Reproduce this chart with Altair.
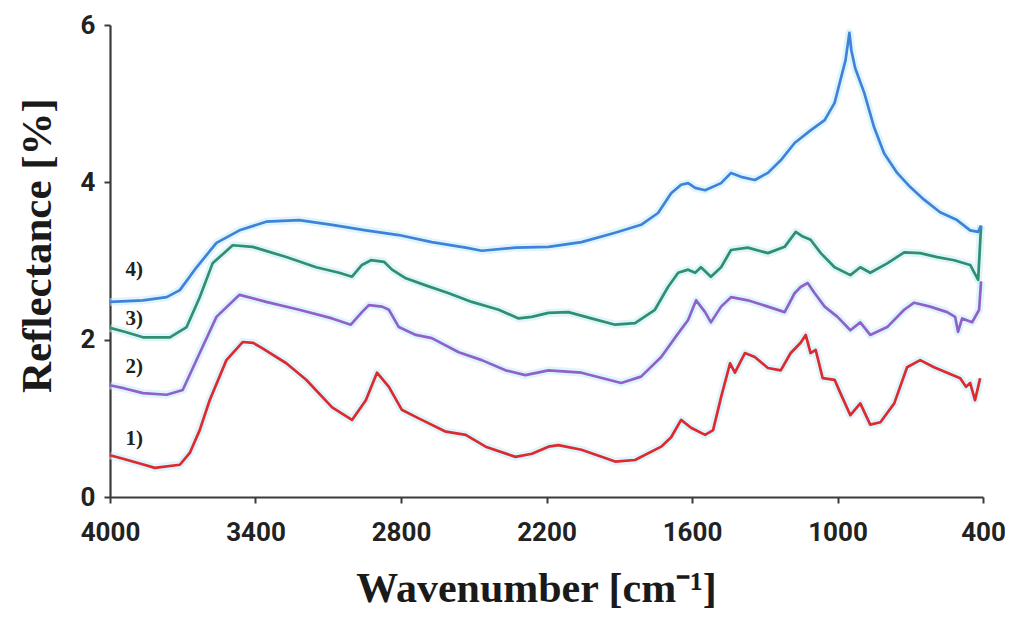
import altair as alt
import pandas as pd

# ---- data ----
wn_1 = [4000, 3950, 3870, 3815, 3712, 3671, 3630, 3589, 3520, 3453, 3410, 3371, 3273, 3191, 3084, 3002,
        2945, 2899, 2850, 2797, 2727, 2615, 2533, 2451, 2328, 2260, 2192, 2151, 2056, 1917, 1835, 1727,
        1686, 1645, 1604, 1546, 1513, 1480, 1443, 1423, 1382, 1341, 1287, 1234, 1193, 1152, 1131, 1111,
        1090, 1061, 1012, 988, 947, 906, 865, 823, 766, 713, 659, 602, 548, 494, 470, 453, 433, 420, 412]
refl_1 = [0.53, 0.49, 0.42, 0.37, 0.41, 0.56, 0.85, 1.23, 1.74, 1.97, 1.96, 1.89, 1.70, 1.49, 1.14, 0.98,
          1.23, 1.58, 1.40, 1.11, 1.00, 0.83, 0.79, 0.64, 0.51, 0.55, 0.64, 0.66, 0.60, 0.45, 0.47, 0.64,
          0.76, 0.98, 0.88, 0.79, 0.85, 1.27, 1.70, 1.58, 1.83, 1.78, 1.64, 1.61, 1.83, 1.96, 2.06, 1.83,
          1.87, 1.51, 1.49, 1.32, 1.04, 1.19, 0.92, 0.95, 1.19, 1.65, 1.74, 1.65, 1.58, 1.51, 1.40, 1.45,
          1.23, 1.40, 1.51]

wn_2 = [4000, 3940, 3864, 3766, 3700, 3630, 3561, 3466, 3356, 3220, 3084, 3007, 2961, 2932, 2878, 2850,
        2809, 2739, 2673, 2562, 2467, 2369, 2287, 2192, 2056, 1892, 1810, 1727, 1657, 1616, 1583, 1546,
        1522, 1480, 1439, 1370, 1287, 1218, 1177, 1152, 1123, 1094, 1053, 1000, 947, 906, 865, 795,
        725, 684, 618, 548, 515, 503, 486, 445, 416, 408]
refl_2 = [1.42, 1.38, 1.32, 1.30, 1.36, 1.83, 2.29, 2.57, 2.48, 2.38, 2.27, 2.19, 2.35, 2.44, 2.42, 2.38,
          2.16, 2.06, 2.02, 1.84, 1.74, 1.61, 1.55, 1.61, 1.58, 1.45, 1.53, 1.78, 2.08, 2.25, 2.50, 2.35,
          2.22, 2.42, 2.54, 2.50, 2.42, 2.35, 2.59, 2.67, 2.72, 2.59, 2.42, 2.29, 2.12, 2.22, 2.06, 2.16,
          2.38, 2.47, 2.42, 2.35, 2.29, 2.10, 2.27, 2.22, 2.38, 2.74]

wn_3 = [4000, 3940, 3864, 3753, 3684, 3630, 3577, 3494, 3412, 3273, 3150, 3055, 3002, 2961, 2924, 2870,
        2837, 2780, 2698, 2603, 2508, 2397, 2315, 2261, 2192, 2110, 2015, 1917, 1835, 1753, 1699, 1657,
        1616, 1587, 1563, 1522, 1480, 1439, 1370, 1287, 1218, 1172, 1143, 1111, 1069, 1012, 947, 906,
        865, 795, 725, 659, 589, 519, 453, 420, 408]
refl_3 = [2.15, 2.10, 2.03, 2.03, 2.16, 2.54, 2.97, 3.20, 3.18, 3.05, 2.92, 2.85, 2.80, 2.95, 3.01, 2.99,
          2.89, 2.78, 2.69, 2.59, 2.48, 2.38, 2.27, 2.29, 2.34, 2.35, 2.27, 2.19, 2.21, 2.38, 2.67, 2.85,
          2.89, 2.85, 2.92, 2.80, 2.92, 3.14, 3.17, 3.10, 3.18, 3.37, 3.31, 3.27, 3.10, 2.92, 2.82, 2.92,
          2.85, 2.97, 3.11, 3.10, 3.05, 3.01, 2.95, 2.76, 3.45]

wn_4 = [4000, 3930, 3864, 3766, 3712, 3643, 3561, 3466, 3356, 3220, 3084, 2945, 2809, 2673, 2533, 2467,
        2328, 2192, 2056, 1917, 1810, 1740, 1686, 1645, 1616, 1587, 1546, 1480, 1439, 1398, 1341, 1287,
        1234, 1177, 1111, 1053, 1012, 988, 967, 951, 943, 927, 890, 849, 808, 754, 700, 643,
        577, 507, 453, 420, 408]
refl_4 = [2.48, 2.49, 2.50, 2.54, 2.63, 2.92, 3.23, 3.39, 3.50, 3.52, 3.46, 3.39, 3.33, 3.24, 3.17, 3.13,
          3.17, 3.18, 3.24, 3.36, 3.46, 3.61, 3.86, 3.97, 3.99, 3.93, 3.90, 3.99, 4.12, 4.07, 4.03, 4.12,
          4.28, 4.50, 4.66, 4.79, 5.01, 5.30, 5.55, 5.90, 5.68, 5.45, 5.14, 4.70, 4.37, 4.12, 3.94, 3.78,
          3.62, 3.52, 3.39, 3.37, 3.45]

series_names = ["1)", "2)", "3)", "4)"]
series_colors = ["#dc2a2e", "#8f62c9", "#2f8f6f", "#3f82d8"]
label_wn = [3900, 3900, 3900, 3900]
label_refl = [0.74, 1.65, 2.26, 2.88]

x_ticks = [4000, 3400, 2800, 2200, 1600, 1000, 400]
y_ticks = [0, 2, 4, 6]

# ---- build table ----
rows = []
for name, wns, vals in zip(series_names, [wn_1, wn_2, wn_3, wn_4], [refl_1, refl_2, refl_3, refl_4]):
    for i, (w, v) in enumerate(zip(wns, vals)):
        rows.append({"series": name, "wn": w, "refl": v, "order": i})
df = pd.DataFrame(rows)
labels_df = pd.DataFrame({"label": series_names, "wn": label_wn, "refl": label_refl})

x_scale = alt.Scale(domain=[400, 4000], reverse=True, nice=False, zero=False)
y_scale = alt.Scale(domain=[0, 6], nice=False)

x_enc = alt.X("wn:Q", scale=x_scale,
              axis=alt.Axis(values=x_ticks, title="Wavenumber [cm⁻¹]", format="d",
                            labelFont="Roboto", labelFontSize=26, labelFontWeight="bold",
                            labelPadding=16, labelColor="#222", labelOverlap=False, labelFlush=False,
                            titleFont="Liberation Serif", titleFontSize=42, titleFontWeight="bold",
                            titleColor="#1a1a1a", titleX=426, titleY=104,
                            titleBaseline="alphabetic", titleAlign="center"))
y_enc = alt.Y("refl:Q", scale=y_scale,
              axis=alt.Axis(values=y_ticks, title="Reflectance [%]", format="d",
                            labelFont="Roboto", labelFontSize=26, labelFontWeight="bold",
                            labelPadding=9, labelColor="#222",
                            titleFont="Liberation Serif", titleFontSize=43, titleFontWeight="bold",
                            titleColor="#1a1a1a", titleX=-60, titleY=220, titleBaseline="alphabetic",
                            titleAngle=270, titleAlign="center"))

color_scale = alt.Scale(domain=series_names, range=series_colors)

halo = alt.Chart(df).mark_line(strokeWidth=8, opacity=0.55, color="#c6ebf7", strokeJoin="round").encode(
    x=x_enc, y=y_enc, detail="series:N", order="order:Q")

lines = alt.Chart(df).mark_line(strokeWidth=2.7, strokeJoin="round").encode(
    x=x_enc, y=y_enc,
    color=alt.Color("series:N", scale=color_scale, legend=None),
    order="order:Q")

labels = alt.Chart(labels_df).mark_text(font="Liberation Serif", fontSize=21, fontWeight="bold",
                                        color="#222", align="center", baseline="middle").encode(
    x=alt.X("wn:Q", scale=x_scale),
    y=alt.Y("refl:Q", scale=y_scale),
    text="label:N")

chart = alt.layer(halo, lines, labels).properties(
    width=873, height=472,
    autosize=alt.AutoSizeParams(type="none"),
    padding={"left": 102, "top": 17, "right": 22, "bottom": 116},
    background="white",
).configure_view(stroke=None).configure_axis(
    grid=False, domainColor="#3a3a3a", domainWidth=2.2, tickColor="#3a3a3a", tickWidth=2, tickSize=6
)

chart.save("out.html", embed_options={"renderer": "svg", "actions": False})
